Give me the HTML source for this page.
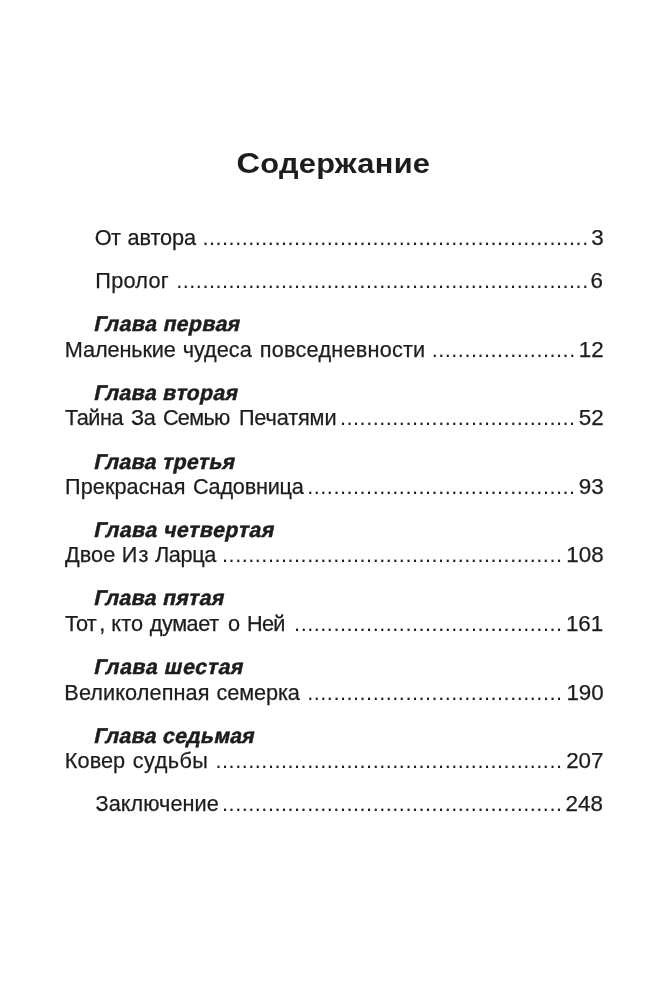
<!DOCTYPE html>
<html lang="ru"><head><meta charset="utf-8"><title>Содержание</title>
<style>
html,body{margin:0;padding:0;background:#fff;}
body{width:669px;height:987px;position:relative;overflow:hidden;font-family:"Liberation Sans",sans-serif;color:#1d1d1b;}
h1,.r,.h,.w,.d,.p{position:absolute;margin:0;white-space:nowrap;line-height:25px;font-size:21.7px;font-weight:normal;}
h1{font-size:28px;line-height:32px;font-weight:bold;transform:translateX(0.4px) scaleX(1.1);transform-origin:0 0;}
.r{left:0;width:669px;height:25px;}
.w,.d,.p{top:0;}
.h{font-size:21.3px;line-height:24px;font-weight:bold;-webkit-text-stroke:0.5px #1d1d1b;transform-origin:0 19px;}
.d{letter-spacing:0.522px;}
.p{text-align:right;font-size:22.4px;}
.w,.p{-webkit-text-stroke:0.25px #1d1d1b;}
</style></head><body>

<h1 id="title" class="m" style="left:236px;top:147px;letter-spacing:0.25px;"><span style="font-size:29.7px;">С</span>одержание</h1>
<div class="r" style="top:225px;"><span class="w m" id="w0_0" style="left:94.77px;letter-spacing:-0.7px;">От</span> <span class="w m" id="w0_1" style="left:127.6px;letter-spacing:-0.096px;">автора</span> <span class="d m" id="d0" style="left:202.4px;">...........................................................</span> <span class="p m" id="p0" style="right:65.42px;">3</span></div>
<div class="r" style="top:268px;"><span class="w m" id="w1_0" style="left:95.36px;letter-spacing:0.234px;">Пролог</span> <span class="d m" id="d1" style="left:176.2px;">...............................................................</span> <span class="p m" id="p1" style="right:66.03px;">6</span></div>
<div class="h m" id="w2_0" style="left:93px;top:312px;letter-spacing:0.37px;transform:translate(0.2px,0) skewX(-12deg);">Глава первая</div>
<div class="r" style="top:337px;"><span class="w m" id="w3_0" style="left:64.86px;letter-spacing:-0.127px;">Маленькие</span> <span class="w m" id="w3_1" style="left:182.65px;letter-spacing:0.016px;">чудеса</span> <span class="w m" id="w3_2" style="left:259.86px;letter-spacing:0.207px;">повседневности</span> <span class="d m" id="d3" style="left:431.65px;">......................</span> <span class="p m" id="p3" style="right:65.34px;">12</span></div>
<div class="h m" id="w4_0" style="left:93px;top:381px;letter-spacing:0.309px;transform:translate(0.2px,0) skewX(-12deg);">Глава вторая</div>
<div class="r" style="top:405px;"><span class="w m" id="w5_0" style="left:64.9px;letter-spacing:-0.443px;">Тайна</span> <span class="w m" id="w5_1" style="left:130.98px;letter-spacing:-0.44px;">За</span> <span class="w m" id="w5_2" style="left:162.9px;letter-spacing:-0.7px;">Семью</span> <span class="w m" id="w5_3" style="left:238.92px;letter-spacing:-0.129px;">Печатями</span> <span class="d m" id="d5" style="left:339.95px;">....................................</span> <span class="p m" id="p5" style="right:65.34px;">52</span></div>
<div class="h m" id="w6_0" style="left:93px;top:450px;letter-spacing:0.267px;transform:translate(0.2px,0) skewX(-12deg);">Глава третья</div>
<div class="r" style="top:474px;"><span class="w m" id="w7_0" style="left:65.03px;letter-spacing:0.053px;">Прекрасная</span> <span class="w m" id="w7_1" style="left:192.9px;letter-spacing:-0.235px;">Садовница</span> <span class="d m" id="d7" style="left:307.2px;">.........................................</span> <span class="p m" id="p7" style="right:65.42px;">93</span></div>
<div class="h m" id="w8_0" style="left:93px;top:518px;letter-spacing:0.462px;transform:translate(0.2px,0) skewX(-12deg);">Глава четвертая</div>
<div class="r" style="top:542px;"><span class="w m" id="w9_0" style="left:64.94px;letter-spacing:0.072px;">Двое</span> <span class="w m" id="w9_1" style="left:121.86px;letter-spacing:0.94px;">Из</span> <span class="w m" id="w9_2" style="left:154.93px;letter-spacing:-0.354px;">Ларца</span> <span class="d m" id="d9" style="left:222.05px;">....................................................</span> <span class="p m" id="p9" style="right:65.42px;">108</span></div>
<div class="h m" id="w10_0" style="left:93px;top:586px;letter-spacing:0.301px;transform:translate(0.2px,0) skewX(-12deg);">Глава пятая</div>
<div class="r" style="top:611px;"><span class="w m" id="w11_0" style="left:65.01px;letter-spacing:-0.645px;">Тот</span><span class="w m" id="w11_1" style="left:99.3px;letter-spacing:-0.2px;">,</span> <span class="w m" id="w11_2" style="left:111.34px;letter-spacing:0.13px;">кто</span> <span class="w m" id="w11_3" style="left:149.75px;letter-spacing:-0.434px;">думает</span> <span class="w m" id="w11_4" style="left:227.93px;letter-spacing:-0.2px;">о</span> <span class="w m" id="w11_5" style="left:246.96px;letter-spacing:-0.7px;">Ней</span> <span class="d m" id="d11" style="left:294.1px;">.........................................</span> <span class="p m" id="p11" style="right:65.78px;">161</span></div>
<div class="h m" id="w12_0" style="left:93px;top:655px;letter-spacing:0.571px;transform:translate(0.2px,0) skewX(-12deg);">Глава шестая</div>
<div class="r" style="top:680px;"><span class="w m" id="w13_0" style="left:64.34px;letter-spacing:0.087px;">Великолепная</span> <span class="w m" id="w13_1" style="left:216.55px;letter-spacing:-0.104px;">семерка</span> <span class="d m" id="d13" style="left:307.2px;">.......................................</span> <span class="p m" id="p13" style="right:65.22px;">190</span></div>
<div class="h m" id="w14_0" style="left:93px;top:724px;letter-spacing:0.276px;transform:translate(0.2px,0) skewX(-12deg);">Глава седьмая</div>
<div class="r" style="top:748px;"><span class="w m" id="w15_0" style="left:64.86px;letter-spacing:0.048px;">Ковер</span> <span class="w m" id="w15_1" style="left:132.85px;letter-spacing:0.408px;">судьбы</span> <span class="d m" id="d15" style="left:215.5px;">.....................................................</span> <span class="p m" id="p15" style="right:65.5px;">207</span></div>
<div class="r" style="top:791px;"><span class="w m" id="w16_0" style="left:95.5px;letter-spacing:0.056px;">Заключение</span> <span class="d m" id="d16" style="left:222.05px;">....................................................</span> <span class="p m" id="p16" style="right:66.07px;">248</span></div>
</body></html>
